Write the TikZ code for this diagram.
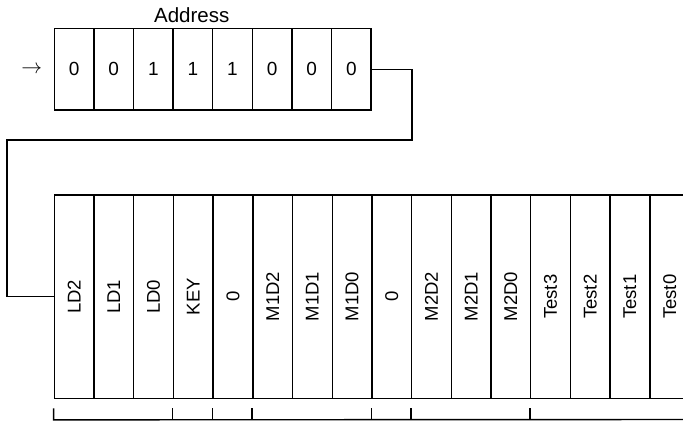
\documentclass[tikz,border=0pt]{standalone}
\usepackage{fontspec}
\setmainfont{Liberation Sans}
\usepackage{amsmath}
\usetikzlibrary{positioning}

\tikzset{
  bitcell/.style={draw=black, line width=1.4pt, minimum width=39.6pt, minimum height=81.7pt,
    inner sep=0pt, font=\fontsize{19}{22}\selectfont},
  fieldcell/.style={draw=black, line width=1.4pt, minimum width=39.7pt, minimum height=203.3pt,
    inner sep=0pt, font=\fontsize{18.5}{22}\selectfont},
  wire/.style={line width=1.4pt}
}

\begin{document}
\begin{tikzpicture}[x=1pt, y=-1pt]
            \useasboundingbox (0,0) rectangle (683,421);
            % address register
            \foreach \bit [count=\i] in {0,0,1,1,1,0,0,0}
            \node[bitcell] (a\i) at (54.3+39.6*\i-19.8,69.2) {\bit};
            \node[anchor=base, font=\fontsize{20.5}{24}\selectfont] (addr) at (191.7,22.7) {Address};
            \node[font=\fontsize{20}{24}\selectfont] (in) at (31.7,69.2) {$\rightarrow$};
            % data register
            \foreach \fld [count=\i] in {LD2,LD1,LD0,KEY,0,M1D2,M1D1,M1D0,0,M2D2,M2D1,M2D0,Test3,Test2,Test1,Test0}
            \node[fieldcell] (b\i) at (54.3+39.7*\i-19.85,296.7) {\rotatebox{90}{\fld}};
            \draw[wire] (a8.east) -- ++(40,0) |- (7,140) |- (b1.west);
            % groups
            \draw[wire] (b1.south west) ++(0,9.3) -- ++(0,11.5) -- (700,419.5);
            \foreach \i in {4,5,6,9,10,13}
            \draw[wire] (b\i.south west) ++(0,9.3) -- ++(0,11.5);
        \end{tikzpicture}
\end{document}
